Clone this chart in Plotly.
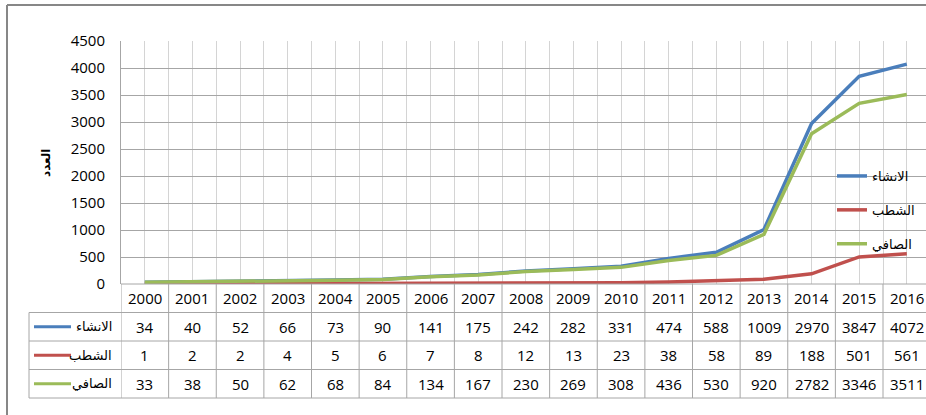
import plotly.graph_objects as go

# ---------------- data ----------------
years = list(range(2000, 2017))
year_labels = [str(y) for y in years]
series_names = ["الانشاء", "الشطب", "الصافي"]
construction = [34, 40, 52, 66, 73, 90, 141, 175, 242, 282, 331, 474, 588, 1009, 2970, 3847, 4072]
struck_off = [1, 2, 2, 4, 5, 6, 7, 8, 12, 13, 23, 38, 58, 89, 188, 501, 561]
net = [33, 38, 50, 62, 68, 84, 134, 167, 230, 269, 308, 436, 530, 920, 2782, 3346, 3511]
y_ticks = [0, 500, 1000, 1500, 2000, 2500, 3000, 3500, 4000, 4500]
y_title = "العدد"

series_values = [construction, struck_off, net]
colors = ["#4A7EBB", "#C0504D", "#9BBB59"]

# ---------------- layout geometry ----------------
W, H = 926, 415
PL, PR = 121, 926          # plot area left / right (px)
PT, PB = 41, 284           # plot area top / bottom (px)
COL_W = 47.625             # width of one category column (px)
x_lo = years[0] - 0.5
x_hi = x_lo + (PR - PL) / COL_W


def xp(px):
    return (px - PL) / (PR - PL)


def yp(py):
    return (PB - py) / (PB - PT)


NUM_FONT = "Open Sans"
AR_FONT = "DejaVu Sans"
GRID_DARK = "#a6a6a6"
GRID_LIGHT = "#d4d4d4"
TABLE_LINE = "#a6a6a6"

fig = go.Figure()
for i, (name, vals) in enumerate(zip(series_names, series_values)):
    fig.add_trace(go.Scatter(
        x=years, y=vals, name=name, mode="lines",
        line=dict(color=colors[i], width=3.5),
        legendgroup=f"g{i}",
        hoverinfo="skip",
    ))

shapes = []
annotations = []

# table row boundaries (px)
row_edges = [284, 312.5, 341, 369.5, 398]
row_centers = [(row_edges[k] + row_edges[k + 1]) / 2 for k in range(4)]
LABEL_LEFT = 29

# horizontal table lines
for k, ry in enumerate(row_edges):
    x0 = xp(PL) if k == 0 else xp(LABEL_LEFT)
    shapes.append(dict(type="line", xref="paper", yref="paper",
                       x0=x0, x1=1.02, y0=yp(ry), y1=yp(ry),
                       line=dict(color=TABLE_LINE, width=1)))
# vertical table lines at category boundaries
for k in range(len(years) + 1):
    bx = x_lo + k
    shapes.append(dict(type="line", xref="x", yref="paper",
                       x0=bx, x1=bx, y0=yp(row_edges[0]), y1=yp(row_edges[-1]),
                       line=dict(color=TABLE_LINE, width=1)))
# left edge of the label column
shapes.append(dict(type="line", xref="paper", yref="paper",
                   x0=xp(LABEL_LEFT), x1=xp(LABEL_LEFT),
                   y0=yp(row_edges[1]), y1=yp(row_edges[-1]),
                   line=dict(color=TABLE_LINE, width=1)))

# header row: years
for yr, lab in zip(years, year_labels):
    annotations.append(dict(x=yr, y=yp(row_centers[0]), xref="x", yref="paper",
                            xanchor="center", yanchor="middle",
                            text=lab, showarrow=False,
                            font=dict(family=NUM_FONT, size=15, color="#000000")))
# data rows
for i, (name, vals) in enumerate(zip(series_names, series_values)):
    cy = row_centers[i + 1]
    for yr, v in zip(years, vals):
        annotations.append(dict(x=yr, y=yp(cy), xref="x", yref="paper",
                                xanchor="center", yanchor="middle",
                                text=str(v), showarrow=False,
                                font=dict(family=NUM_FONT, size=15, color="#000000")))
    annotations.append(dict(x=xp(114), y=yp(cy), xref="paper", yref="paper",
                            text=name, showarrow=False,
                            xanchor="right", yanchor="middle",
                            font=dict(family=AR_FONT, size=13, color="#000000")))
    shapes.append(dict(type="line", xref="paper", yref="paper",
                       x0=xp(34), x1=xp(71), y0=yp(cy), y1=yp(cy),
                       line=dict(color=colors[i], width=3)))

# y-axis title
annotations.append(dict(x=xp(46), y=yp(163), xref="paper", yref="paper",
                        xanchor="center", yanchor="middle",
                        text="<b>" + y_title + "</b>", showarrow=False,
                        textangle=-90,
                        font=dict(family=AR_FONT, size=12, color="#000000")))

# outer chart border (top and left visible)
shapes.append(dict(type="line", xref="paper", yref="paper",
                   x0=xp(7), x1=1.05, y0=yp(5), y1=yp(5),
                   line=dict(color="#878787", width=2)))
shapes.append(dict(type="line", xref="paper", yref="paper",
                   x0=xp(7), x1=xp(7), y0=yp(5), y1=yp(420),
                   line=dict(color="#878787", width=2)))

fig.update_layout(
    width=W, height=H,
    margin=dict(l=PL, r=W - PR, t=PT, b=H - PB, pad=0),
    paper_bgcolor="#ffffff", plot_bgcolor="#ffffff",
    showlegend=True,
    legend=dict(x=xp(832), y=yp(161), xanchor="left", yanchor="top",
                bgcolor="rgba(0,0,0,0)", borderwidth=0,
                tracegroupgap=14,
                font=dict(family=AR_FONT, size=13, color="#000000")),
    xaxis=dict(range=[x_lo, x_hi], tick0=x_lo, dtick=0.5,
               showgrid=True, gridcolor=GRID_LIGHT, gridwidth=1,
               showticklabels=False, ticks="", zeroline=False,
               showline=False, fixedrange=True),
    yaxis=dict(range=[0, 4500], tickvals=y_ticks,
               ticktext=[str(t) for t in y_ticks],
               showgrid=True, gridcolor=GRID_DARK, gridwidth=1,
               ticks="", ticklabelstandoff=12, zeroline=False,
               showline=True, linecolor=GRID_DARK, linewidth=1,
               tickfont=dict(family=NUM_FONT, size=15, color="#000000"),
               fixedrange=True),
    shapes=shapes,
    annotations=annotations,
)

fig.write_html(
    "out.html",
    config={"displayModeBar": False},
    post_script="document.body.style.margin='0';document.body.style.overflow='hidden';",
)
